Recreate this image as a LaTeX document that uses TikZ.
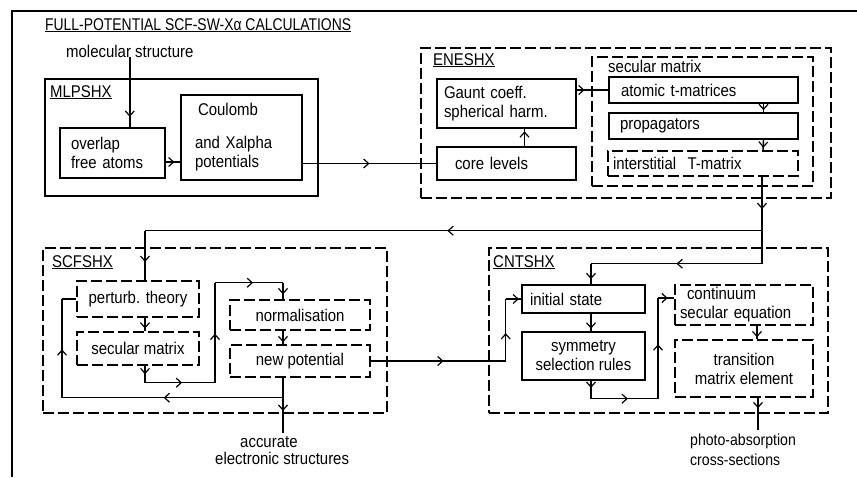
\documentclass[tikz,border=0pt]{standalone}
\usepackage{fontspec}
\setmainfont{Liberation Sans}[FakeStretch=0.88]
\usetikzlibrary{arrows.meta,decorations.markings,calc}
\begin{document}
\begin{tikzpicture}[x=1pt,y=-1pt,
  every node/.style={font=\fontsize{17}{19}\selectfont},
  ln/.style={line width=1.4pt},
  sbox/.style={draw, line width=1.4pt, inner ysep=0pt, anchor=center},
  dbox/.style={sbox, dash pattern=on 11pt off 4pt},
  marr/.style={decoration={markings, mark=at position #1 with {\arrow{Straight Barb[length=5pt,width=9pt,line width=1.2pt]}}}, postaction={decorate}},
  lab/.style={inner sep=0pt, anchor=base west},
]
\useasboundingbox (0,0) rectangle (857,477);
% outer frame
\draw[ln] (12,477) -- (12,11) -- (857,11);
\node[lab] (title) at (45,30) {\underline{\scalebox{0.93}[1]{FULL-POTENTIAL SCF-SW-Xα CALCULATIONS}}};
\node[lab] (ms) at (66,57) {molecular structure};

% MLPSHX
\node[sbox, minimum width=273, minimum height=117] (mlp) at (181.5,137.5) {};
\node[lab] (mlpl) at (50,97) {\underline{MLPSHX}};
\node[sbox, minimum height=50, text width=83, inner xsep=11, align=left] (ovl) at (112.5,153) {overlap\\free atoms};
\node[sbox, minimum height=85, text width=93, inner xsep=14, align=left] (coul) at (241.5,137.5) {\hspace*{3pt}Coulomb\\[14pt]and Xalpha\\potentials};

% ENESHX
\node[dbox, minimum width=410, minimum height=150] (ene) at (626,123) {};
\node[lab] (enel) at (433,65) {\underline{ENESHX}};
\node[sbox, minimum height=49, text width=125, inner xsep=7, align=left] (gaunt) at (506.5,103.5) {Gaunt coeff.\\spherical harm.};
\node[sbox, minimum height=33, text width=103, inner xsep=18, align=left] (core) at (506.5,163.5) {core levels};
\node[dbox, minimum width=221, minimum height=129] (secm) at (702.5,121.5) {};
\node[lab] (secml) at (608,72) {secular matrix};
\node[sbox, minimum height=26, text width=165, inner xsep=12, align=left] (atom) at (703.5,90) {atomic t-matrices};
\node[sbox, minimum height=26, text width=167, inner xsep=11, align=left] (prop) at (703.5,126) {propagators};
\node[dbox, minimum height=25, text width=180, inner xsep=5, align=left] (inter) at (703,163.5) {interstitial \ T-matrix};

% SCFSHX
\node[dbox, minimum width=344, minimum height=165] (scf) at (215,330.5) {};
\node[lab] (scfl) at (52,267) {\underline{SCFSHX}};
\node[dbox, minimum width=122, minimum height=36, inner xsep=0pt] (pert) at (138,299) {perturb. theory};
\node[dbox, minimum width=122, minimum height=33, inner xsep=0pt] (secs) at (138,348.5) {secular matrix};
\node[dbox, minimum width=140, minimum height=30, inner xsep=0pt] (norm) at (300,315) {normalisation};
\node[dbox, minimum width=140, minimum height=32, inner xsep=0pt] (newp) at (300,361) {new potential};

% CNTSHX
\node[dbox, minimum width=339, minimum height=165] (cnt) at (658.5,330.5) {};
\node[lab] (cntl) at (493,267) {\underline{CNTSHX}};
\node[sbox, minimum height=28, text width=107, inner xsep=8, align=left] (init) at (583.5,299) {initial state};
\node[sbox, minimum width=123, minimum height=48, inner xsep=0pt, align=center] (sym) at (583.5,356) {symmetry\\selection rules};
\node[dbox, minimum height=40, text width=128, inner xsep=5, align=left] (cont) at (744,305) {\hspace*{7pt}continuum\\secular equation};
\node[dbox, minimum width=138, minimum height=57, inner xsep=0pt, align=center] (trans) at (744,368.5) {transition\\matrix element};

% outputs
\node[inner sep=0pt, anchor=north west, align=left, font=\fontsize{17}{17}\selectfont] (acc) at (215,436) {\hspace*{25pt}accurate\\electronic structures};
\node[inner sep=0pt, anchor=north west, align=left, font=\fontsize{16}{20}\selectfont] (ph) at (690,433.5) {photo-absorption\\cross-sections};

% connectors
\draw[ln, marr=0.85] (ms.south) -- (ms.south |- ovl.north);
\coordinate (l1) at (0,162);
\draw[ln, marr=0.6] (ovl.east |- l1) -- (coul.west |- l1);
\draw[ln, marr=0.5] (coul.east |- core.west) -- (core.west);
\draw[ln, marr=0.85] ($(core.north)+(18,0)$) -- ($(gaunt.south)+(18,0)$);
\draw[ln, marr=0.25] (gaunt.east |- atom.west) -- (atom.west);
\draw[ln, marr=0.75] ($(atom.south)+(60,0)$) -- ($(prop.north)+(60,0)$);
\draw[ln, marr=0.75] ($(prop.south)+(60,0)$) -- ($(inter.north)+(60,0)$);

\coordinate (j1) at ($(inter.south)+(59,54)$);
\coordinate (pn) at ($(pert.north)+(7,0)$);
\coordinate (j3) at ($(j1)+(0,33)$);
\coordinate (in) at ($(init.north)+(7.5,0)$);
\draw[ln, marr=0.6] ($(inter.south)+(59,0)$) -- (j1);
\draw[ln, marr=0.51] (j1) -- (j1 -| pn);
\draw[ln, marr=0.63] (j1 -| pn) -- (pn);
\draw[ln] (j1) -- (j3);
\draw[ln, marr=0.5] (j3) -- (j3 -| in);
\draw[ln, marr=0.75] (j3 -| in) -- (in);

\draw[ln, marr=0.8] ($(pert.south)+(7,0)$) -- ($(secs.north)+(7,0)$);
\coordinate (s1) at ($(secs.south)+(7,17)$);
\coordinate (s2) at ($(s1)+(70,0)$);
\coordinate (s3) at ($(s2)+(0,-100)$);
\coordinate (nn) at ($(norm.north)+(-17,0)$);
\draw[ln, marr=0.5] ($(secs.south)+(7,0)$) -- (s1);
\draw[ln, marr=0.53] (s1) -- (s2);
\draw[ln, marr=0.49] (s2) -- (s3);
\draw[ln, marr=0.56] (s3) -- (s3 -| nn);
\draw[ln, marr=0.7] (s3 -| nn) -- (nn);
\draw[ln, marr=0.85] ($(norm.south)+(-17,0)$) -- ($(newp.north)+(-17,0)$);

\coordinate (ns) at ($(newp.south)+(-17,0)$);
\coordinate (f1) at ($(ns)+(0,20)$);
\coordinate (f2) at ($(f1)+(-221,0)$);
\draw[ln, marr=0.6] (ns) -- ($(ns |- acc.north)+(0,-3)$);
\draw[ln, marr=0.54] (f1) -- (f2);
\draw[ln, marr=0.49] (f2) -- (f2 |- pert.west);
\draw[ln] (f2 |- pert.west) -- (pert.west);

\coordinate (c1) at ($(newp.east)+(135,0)$);
\draw[ln, marr=0.54] (newp.east) -- (c1);
\draw[ln, marr=0.45] (c1) -- (c1 |- init.west);
\draw[ln, marr=0.85] (c1 |- init.west) -- (init.west);
\draw[ln, marr=0.85] ($(init.south)+(7.5,0)$) -- ($(sym.north)+(7.5,0)$);

\coordinate (y1) at ($(sym.south)+(7.5,18)$);
\coordinate (y2) at ($(y1)+(67,0)$);
\coordinate (cw) at ($(cont.west)+(0,-7)$);
\draw[ln, marr=0.4] ($(sym.south)+(7.5,0)$) -- (y1);
\draw[ln, marr=0.55] (y1) -- (y2);
\draw[ln, marr=0.54] (y2) -- (y2 |- cw);
\draw[ln, marr=0.6] (y2 |- cw) -- (cw);
\draw[ln, marr=0.85] ($(cont.south)+(13,0)$) -- ($(trans.north)+(13,0)$);
\coordinate (ts) at ($(trans.south)+(14,0)$);
\draw[ln, marr=0.33] (ts) -- ($(ts |- ph.north)+(0,-4)$);
\end{tikzpicture}
\end{document}
